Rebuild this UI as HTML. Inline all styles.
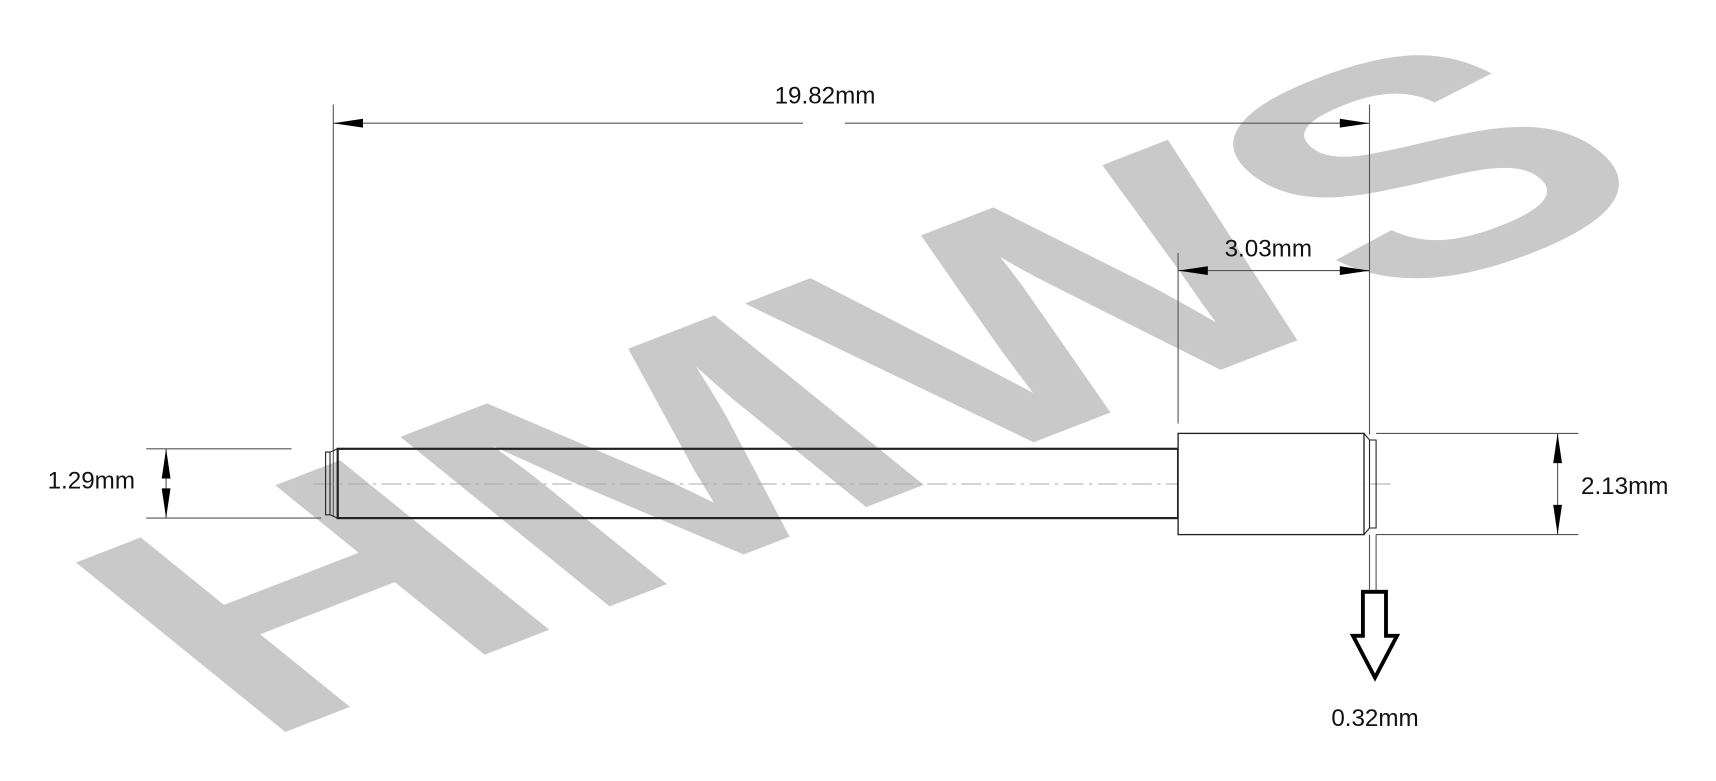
<!DOCTYPE html>
<html><head><meta charset="utf-8"><style>html,body{margin:0;padding:0;background:#fff;width:1716px;height:781px;overflow:hidden}</style></head>
<body>
<svg width="1716" height="781" viewBox="0 0 1560 710" xmlns="http://www.w3.org/2000/svg">
<rect width="1560" height="710" fill="#fff"/>
<g transform="matrix(0.93,-0.36,0.79,0.64,232,676)">
<text x="0" y="0" font-family="Liberation Sans, sans-serif" font-weight="bold" font-size="350" fill="#c9c9c9" textLength="1390" lengthAdjust="spacingAndGlyphs">HMWS</text>
</g>
<g stroke="#555" stroke-width="1" fill="none">
<line x1="303" y1="95" x2="303" y2="470"/>
<line x1="1245" y1="95" x2="1245" y2="395"/>
<line x1="303" y1="112" x2="730" y2="112"/>
<line x1="768" y1="112" x2="1245" y2="112"/>
<line x1="1071" y1="230" x2="1071" y2="385"/>
<line x1="1071" y1="246" x2="1245" y2="246"/>
<line x1="133" y1="408" x2="265" y2="408"/>
<line x1="133" y1="471" x2="292" y2="471"/>
<line x1="151" y1="408" x2="151" y2="471"/>
<line x1="1251" y1="394" x2="1435" y2="394"/>
<line x1="1251" y1="486" x2="1435" y2="486"/>
<line x1="1416" y1="394" x2="1416" y2="486"/>
<line x1="1245" y1="486" x2="1245" y2="538"/>
<line x1="1251" y1="486" x2="1251" y2="538"/>
<line x1="285" y1="440" x2="1265" y2="440" stroke="#aaa" stroke-dasharray="18,5,3,5"/>
</g>
<g fill="#000">
<polygon points="303,112 330,108 330,116"/>
<polygon points="1245,112 1218,108 1218,116"/>
<polygon points="1071,246 1098,242 1098,250"/>
<polygon points="1245,246 1218,242 1218,250"/>
<polygon points="151,408 147,435 155,435"/>
<polygon points="151,471 147,444 155,444"/>
<polygon points="1416,394 1412,421 1420,421"/>
<polygon points="1416,486 1412,459 1420,459"/>
</g>
<g stroke="#222" fill="none">
<rect x="307" y="408" width="764" height="63" stroke-width="2"/>
<path d="M307,408 L300,411 L296,411 L296,468 L300,468 L307,471" stroke-width="1"/>
<line x1="300" y1="411" x2="300" y2="468" stroke-width="1"/>
<rect x="1071" y="394" width="169" height="92" stroke-width="1.2" fill="#fff"/>
<path d="M1240,394 L1245,400 L1251,400 L1251,480 L1245,480 L1240,486" stroke-width="1"/>
<line x1="1245" y1="400" x2="1245" y2="480" stroke-width="1"/>
<polygon points="1239,538 1260,538 1260,578 1270,578 1250,616 1230,578 1239,578" stroke="#000" stroke-width="3.5" fill="#fff"/>
</g>
<g font-family="Liberation Sans, sans-serif" font-size="22" fill="#111" text-anchor="middle">
<text x="750" y="94">19.82mm</text>
<text x="1153" y="233">3.03mm</text>
<text x="83" y="444">1.29mm</text>
<text x="1477" y="449">2.13mm</text>
<text x="1250" y="660">0.32mm</text>
</g>
</svg>
</body></html>
